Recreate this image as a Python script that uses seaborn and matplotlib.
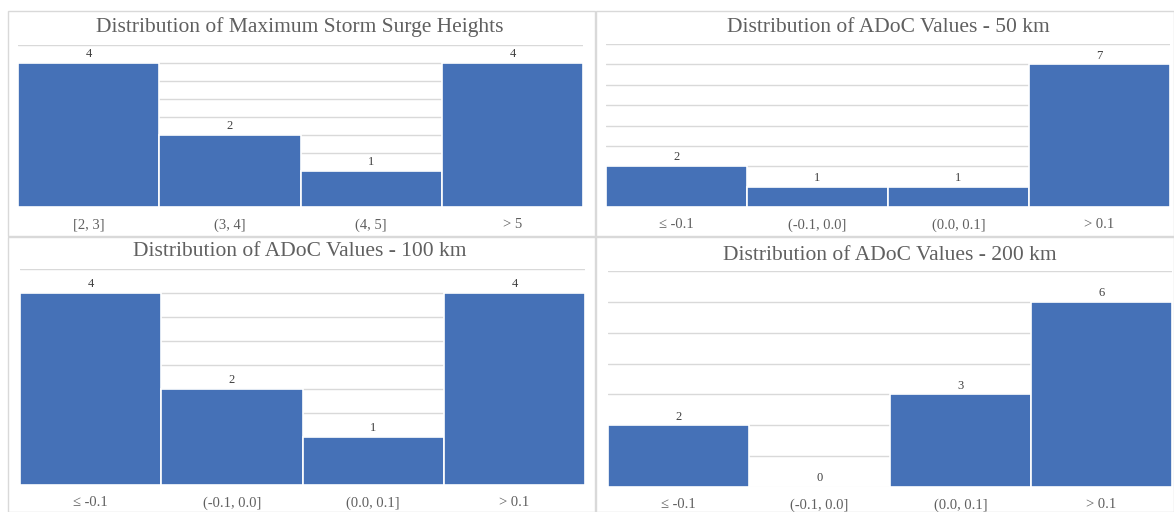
import matplotlib
matplotlib.use("Agg")
import matplotlib.pyplot as plt
from matplotlib.patches import Rectangle
from matplotlib.ticker import MultipleLocator
import seaborn as sns

# Counts per bin for each distribution
surge_bins = ["[2, 3]", "(3, 4]", "(4, 5]", "> 5"]
surge_counts = [4, 2, 1, 4]

adoc_bins = ["\u2264 -0.1", "(-0.1, 0.0]", "(0.0, 0.1]", "> 0.1"]
adoc_50_counts = [2, 1, 1, 7]
adoc_100_counts = [4, 2, 1, 4]
adoc_200_counts = [2, 0, 3, 6]

titles = [
    "Distribution of Maximum Storm Surge Heights",
    "Distribution of ADoC Values - 50 km",
    "Distribution of ADoC Values - 100 km",
    "Distribution of ADoC Values - 200 km",
]

sns.set_theme(style="white")
plt.rcParams["font.family"] = ["Liberation Serif", "DejaVu Serif"]

W, H = 1174, 512
fig = plt.figure(figsize=(W / 100, H / 100), dpi=100)
fig.patch.set_facecolor("white")

BAR = "#4571B7"
GRID = "#D9D9D9"
TXT = "#606060"


def px_rect(x0, y0, x1, y1):
    return [x0 / W, 1 - y1 / H, (x1 - x0) / W, (y1 - y0) / H]


# chart-area frames
frames = [(8, 11, 595, 236), (596, 11, 1174, 236), (8, 237, 595, 512), (596, 237, 1174, 512)]
for x0, y0, x1, y1 in frames:
    fig.patches.append(Rectangle((x0 / W, 1 - y1 / H), (x1 - x0) / W, (y1 - y0) / H,
                                 transform=fig.transFigure, facecolor="none",
                                 edgecolor="#D9D9D9", linewidth=1, zorder=-1))

panels = [
    (surge_bins, surge_counts, (18, 45, 583, 207), 4.5, 0.5, (300, 27)),
    (adoc_bins, adoc_50_counts, (606, 44, 1170, 207), 8, 1, (888, 27)),
    (adoc_bins, adoc_100_counts, (20, 269, 585, 485), 4.5, 0.5, (300, 252)),
    (adoc_bins, adoc_200_counts, (608, 271, 1172, 487), 7, 1, (890, 255)),
]

for (cats, vals, box, ymax, step, tpos), title in zip(panels, titles):
    ax = fig.add_axes(px_rect(*box))
    ax.patch.set_alpha(0)
    sns.barplot(x=cats, y=vals, color=BAR, saturation=1, width=1,
                edgecolor="white", linewidth=1.2, ax=ax)
    ax.set_xlim(-0.5, 3.5)
    ax.set_ylim(0, ymax)
    ax.yaxis.set_major_locator(MultipleLocator(step))
    ax.grid(axis="y", color=GRID, linewidth=1)
    ax.set_axisbelow(True)
    for s in ax.spines.values():
        s.set_visible(False)
    ax.set_yticklabels([])
    ax.tick_params(axis="y", length=0)
    ax.tick_params(axis="x", length=0, pad=8, labelsize=10.5, labelcolor=TXT)
    ax.set_xlabel("")
    ax.set_ylabel("")
    ax.bar_label(ax.containers[0], labels=[str(v) for v in vals],
                 padding=2, fontsize=9, color="#404040")
    fig.text(tpos[0] / W, 1 - tpos[1] / H, title, ha="center", va="center",
             fontsize=15.5, color=TXT)

fig.savefig("out.png", dpi=100)
